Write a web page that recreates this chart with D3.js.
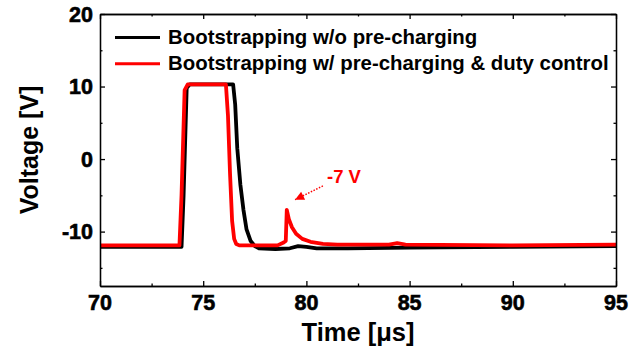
<!DOCTYPE html>
<html>
<head>
<meta charset="utf-8">
<script src="https://cdn.jsdelivr.net/npm/d3@7"></script>
<style>
  body { margin: 0; background: #fff; }
  svg text { font-family: Arial, 'Liberation Sans', sans-serif; font-weight: bold; fill: #000; }
  .axis path, .axis line { stroke: #000; stroke-width: 1.3; }
  .xLabel, .yLabel { stroke: #000; stroke-width: 0.6; }
</style>
</head>
<body>
<svg id="chart" width="641" height="353"></svg>
<script>
// time [us] / voltage [V]
const blackTime = [70, 73.95, 74.05, 74.2, 74.35, 76.45, 76.55, 76.65, 76.8, 76.95, 77.1, 77.3, 77.5, 77.7, 78.5, 79.2, 79.6, 80.0, 80.5, 82, 85, 90, 95];
const blackVolt = [-12.1, -12.1, -5, 9.8, 10.3, 10.3, 7.5, 1.5, -3.5, -7, -9.7, -11.3, -12.0, -12.3, -12.4, -12.3, -12.0, -12.1, -12.3, -12.3, -12.2, -12.1, -12.0];

const redTime = [70, 73.85, 73.95, 74.1, 74.25, 76.1, 76.2, 76.3, 76.4, 76.5, 76.6, 76.75, 78.6, 78.9, 79.0, 79.05, 79.15, 79.3, 79.5, 79.8, 80.2, 80.8, 81.5, 84.0, 84.4, 84.8, 90, 95];
const redVolt = [-11.9, -11.9, -5, 9.5, 10.3, 10.3, 6, -2, -8.5, -11.0, -11.7, -11.9, -11.9, -11.5, -11.3, -7.0, -8.3, -9.4, -10.3, -11.0, -11.4, -11.7, -11.8, -11.8, -11.6, -11.8, -11.9, -11.8];

const seriesNames = ['Bootstrapping w/o pre-charging', 'Bootstrapping w/ pre-charging & duty control'];
const seriesColors = ['#000000', '#ff0000'];

const xMajorTicks = [70, 75, 80, 85, 90, 95];
const xMinorTicks = [72.5, 77.5, 82.5, 87.5, 92.5];
const yMajorTicks = [-10, 0, 10, 20];
const yMinorTicks = [-15, -5, 5, 15];

// annotation: arrow tip / tail and label anchor, in data units
const peakLabel = '-7 V';
const arrowTip = [79.45, -5.6];
const arrowTail = [80.8, -3.7];
const labelPos = [81.0, -3.3];

const margin = {top: 14, right: 25, bottom: 67, left: 100};
const width = 641 - margin.left - margin.right;
const height = 353 - margin.top - margin.bottom;

const svg = d3.select('#chart');
const g = svg.append('g').attr('transform', `translate(${margin.left},${margin.top})`);

const xScale = d3.scaleLinear().domain([70, 95]).range([0, width]);
const yScale = d3.scaleLinear().domain([-17.5, 20]).range([height, 0]);

// traces, black first so red lies on top
const line = d3.line().x(d => xScale(d[0])).y(d => yScale(d[1]));
const traces = [
  d3.zip(blackTime, blackVolt),
  d3.zip(redTime, redVolt)
];
g.selectAll('path.trace')
  .data(traces)
  .enter()
  .append('path')
  .attr('class', 'trace')
  .attr('d', line)
  .attr('fill', 'none')
  .attr('stroke', (d, i) => seriesColors[i])
  .attr('stroke-width', 3.8)
  .attr('stroke-linejoin', 'round');

// frame: mirrored inward ticks on all four sides, labels drawn separately
const tickAxis = (axisFn, values, size) => axisFn.tickValues(values).tickSizeInner(-size).tickSizeOuter(0).tickFormat('');

const sides = [
  [() => d3.axisBottom(xScale), `translate(0,${height})`, xMajorTicks, xMinorTicks],
  [() => d3.axisTop(xScale), null, xMajorTicks, xMinorTicks],
  [() => d3.axisLeft(yScale), null, yMajorTicks, yMinorTicks],
  [() => d3.axisRight(yScale), `translate(${width},0)`, yMajorTicks, yMinorTicks]
];
sides.forEach(([makeAxis, transform, major, minor]) => {
  g.append('g').attr('class', 'axis').attr('transform', transform)
    .call(tickAxis(makeAxis(), major, 5));
  g.append('g').attr('class', 'axis').attr('transform', transform)
    .call(tickAxis(makeAxis(), minor, 2.5));
});

// tick labels
g.selectAll('text.xLabel')
  .data(xMajorTicks)
  .enter()
  .append('text')
  .attr('class', 'xLabel')
  .attr('x', d => xScale(d))
  .attr('y', height + 24)
  .attr('text-anchor', 'middle')
  .style('font-size', '21.5px')
  .text(d => String(d));

g.selectAll('text.yLabel')
  .data(yMajorTicks)
  .enter()
  .append('text')
  .attr('class', 'yLabel')
  .attr('x', -7)
  .attr('y', d => yScale(d))
  .attr('dy', '0.36em')
  .attr('text-anchor', 'end')
  .style('font-size', '21.5px')
  .text(d => String(d));

// axis titles
svg.append('text')
  .attr('x', margin.left + width / 2)
  .attr('y', 341)
  .attr('text-anchor', 'middle')
  .style('font-size', '25.5px')
  .text('Time [\u03bcs]');

svg.append('text')
  .attr('transform', `translate(38,${margin.top + height / 2}) rotate(-90)`)
  .attr('text-anchor', 'middle')
  .style('font-size', '25px')
  .text('Voltage [V]');

// legend
const legend = g.selectAll('g.legendEntry')
  .data(seriesNames)
  .enter()
  .append('g')
  .attr('class', 'legendEntry')
  .attr('transform', (d, i) => `translate(15,${23.5 + i * 26.3})`);

legend.append('line')
  .attr('x1', 0).attr('x2', 45)
  .attr('stroke', (d, i) => seriesColors[i])
  .attr('stroke-width', 3);

legend.append('text')
  .attr('x', 53)
  .attr('y', 6.5)
  .style('font-size', '20.4px')
  .text(d => d);

// peak annotation
g.append('defs').append('marker')
  .attr('id', 'arrowHead')
  .attr('viewBox', '0 0 10 10')
  .attr('refX', 10).attr('refY', 5)
  .attr('markerWidth', 11).attr('markerHeight', 9)
  .attr('markerUnits', 'userSpaceOnUse')
  .attr('orient', 'auto')
  .append('path')
  .attr('d', 'M0,0L10,5L0,10Z')
  .attr('fill', '#ff0000');

g.append('line')
  .attr('x1', xScale(arrowTail[0])).attr('y1', yScale(arrowTail[1]))
  .attr('x2', xScale(arrowTip[0])).attr('y2', yScale(arrowTip[1]))
  .attr('stroke', '#ff0000')
  .attr('stroke-width', 1.5)
  .attr('stroke-dasharray', '1.5,1.5')
  .attr('marker-end', 'url(#arrowHead)');

g.append('text')
  .attr('x', xScale(labelPos[0]))
  .attr('y', yScale(labelPos[1]))
  .style('font-size', '18.5px')
  .style('fill', '#ff0000')
  .text(peakLabel);
</script>
</body>
</html>
